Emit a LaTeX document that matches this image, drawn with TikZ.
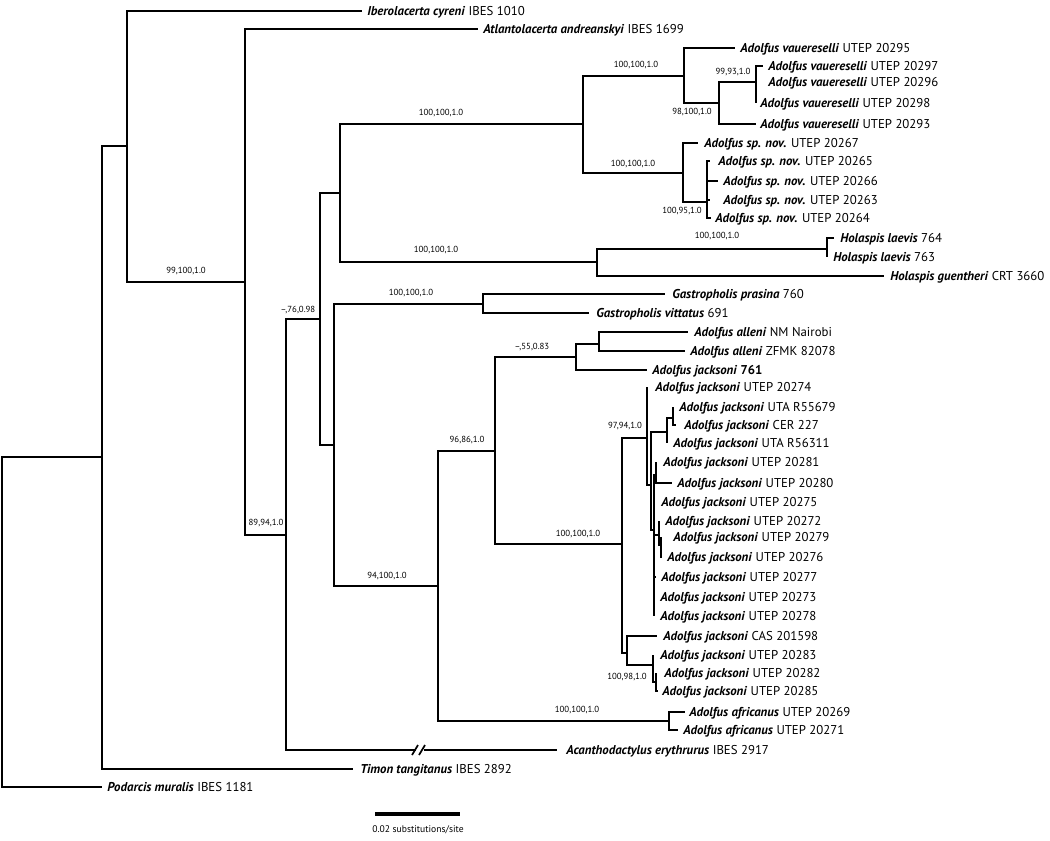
\documentclass[tikz,border=0pt]{standalone}
\usepackage{fontspec}
\setmainfont{PT Sans}
\newcommand\tx[1]{\textbf{\textit{#1}}}
\begin{document}
\begin{tikzpicture}[x=0.75pt,y=-0.75pt,
  br/.style={line width=1.9pt,line join=miter},
  lbl/.style={anchor=west,inner sep=0pt,text height=1.55ex,text depth=0.35ex,font=\fontsize{9.6}{11}\selectfont},
  bs/.style={inner sep=0pt,font=\fontsize{6.6}{7}\selectfont}]
\useasboundingbox (0,0) rectangle (1050,840);
% internal nodes
\coordinate (R0) at (2,622);
\coordinate (B) at (102,457);
\coordinate (A) at (127,146);
\coordinate (C) at (245,282);
\coordinate (D) at (286,535);
\coordinate (E) at (320,319);
\coordinate (F) at (340,193);
\coordinate (G) at (334,445);
\coordinate (H) at (583,124);
\coordinate (Ho) at (597,262);
\coordinate (I) at (684,76);
\coordinate (J) at (683,173);
\coordinate (K) at (719,103);
\coordinate (L) at (756,82);
\coordinate (M) at (707,202);
\coordinate (N) at (827,249);
\coordinate (O) at (483,304);
\coordinate (P) at (438,586);
\coordinate (Q) at (495,451);
\coordinate (R) at (669,721);
\coordinate (S) at (576,357);
\coordinate (U) at (599,344);
\coordinate (T) at (622,544);
\coordinate (V) at (647,438);
\coordinate (V2) at (651,485);
\coordinate (Y) at (667,432);
\coordinate (Z) at (673,418);
\coordinate (V3) at (654,530);
\coordinate (V4) at (656,475);
\coordinate (V5) at (659,535);
\coordinate (V6) at (661,545);
\coordinate (W) at (627,653);
\coordinate (X) at (653,665);
\coordinate (X2) at (656,682);
% tips: branch ends
\coordinate (ibe) at (362,11);
\coordinate (atl) at (478,29);
\coordinate (v95) at (735,48);
\coordinate (v97) at (763,66);
\coordinate (v96) at (756,82);
\coordinate (v98) at (756,103);
\coordinate (v93) at (756,124);
\coordinate (s67) at (698,143);
\coordinate (s65) at (710,161);
\coordinate (s66) at (718,181);
\coordinate (s63) at (710,200);
\coordinate (s64) at (711,218);
\coordinate (h764) at (834,238);
\coordinate (h763) at (827,257);
\coordinate (hgu) at (884,276);
\coordinate (gpr) at (665,294);
\coordinate (gvi) at (589,313);
\coordinate (aNM) at (688,332);
\coordinate (aZF) at (685,351);
\coordinate (j761) at (647,370);
\coordinate (j74) at (647,387);
\coordinate (j679) at (673,407);
\coordinate (jCER) at (676,425);
\coordinate (j311) at (667,443);
\coordinate (j81) at (656,462);
\coordinate (j80) at (672,483);
\coordinate (j75) at (654,502);
\coordinate (j72) at (659,521);
\coordinate (j79) at (661,537);
\coordinate (j76) at (661,558);
\coordinate (j77) at (656,577);
\coordinate (j73) at (654,597);
\coordinate (j78) at (654,616);
\coordinate (jCAS) at (657,636);
\coordinate (j83) at (653,655);
\coordinate (j82) at (656,673);
\coordinate (j85) at (658,691);
\coordinate (af69) at (685,712);
\coordinate (af71) at (678,730);
\coordinate (aca) at (557,750);
\coordinate (brkL) at (416,750);
\coordinate (brkR) at (424,750);
\coordinate (tim) at (353,769);
\coordinate (pod) at (102,787);
% labels
\node[lbl] (ibeL) at (367,11) {\tx{Iberolacerta cyreni} IBES 1010};
\node[lbl] (atlL) at (483,29) {\tx{Atlantolacerta andreanskyi} IBES 1699};
\node[lbl] (v95L) at (740,48) {\tx{Adolfus vauereselli} UTEP 20295};
\node[lbl] (v97L) at (768,66) {\tx{Adolfus vauereselli} UTEP 20297};
\node[lbl] (v96L) at (768,82) {\tx{Adolfus vauereselli} UTEP 20296};
\node[lbl] (v98L) at (760,103) {\tx{Adolfus vauereselli} UTEP 20298};
\node[lbl] (v93L) at (760,124) {\tx{Adolfus vauereselli} UTEP 20293};
\node[lbl] (s67L) at (704,143) {\tx{Adolfus sp. nov.} UTEP 20267};
\node[lbl] (s65L) at (718,161) {\tx{Adolfus sp. nov.} UTEP 20265};
\node[lbl] (s66L) at (723,181) {\tx{Adolfus sp. nov.} UTEP 20266};
\node[lbl] (s63L) at (723,200) {\tx{Adolfus sp. nov.} UTEP 20263};
\node[lbl] (s64L) at (715,218) {\tx{Adolfus sp. nov.} UTEP 20264};
\node[lbl] (h764L) at (840,238) {\tx{Holaspis laevis} 764};
\node[lbl] (h763L) at (833,257) {\tx{Holaspis laevis} 763};
\node[lbl] (hguL) at (890,276) {\tx{Holaspis guentheri} CRT 3660};
\node[lbl] (gprL) at (672,294) {\tx{Gastropholis prasina} 760};
\node[lbl] (gviL) at (596,313) {\tx{Gastropholis vittatus} 691};
\node[lbl] (aNML) at (694,332) {\tx{Adolfus alleni} NM Nairobi};
\node[lbl] (aZFL) at (690,351) {\tx{Adolfus alleni} ZFMK 82078};
\node[lbl] (j761L) at (652,370) {\tx{Adolfus jacksoni} \textbf{761}};
\node[lbl] (j74L) at (655,387) {\tx{Adolfus jacksoni} UTEP 20274};
\node[lbl] (j679L) at (679,407) {\tx{Adolfus jacksoni} UTA R55679};
\node[lbl] (jCERL) at (684,425) {\tx{Adolfus jacksoni} CER 227};
\node[lbl] (j311L) at (673,443) {\tx{Adolfus jacksoni} UTA R56311};
\node[lbl] (j81L) at (663,462) {\tx{Adolfus jacksoni} UTEP 20281};
\node[lbl] (j80L) at (677,483) {\tx{Adolfus jacksoni} UTEP 20280};
\node[lbl] (j75L) at (661,502) {\tx{Adolfus jacksoni} UTEP 20275};
\node[lbl] (j72L) at (665,521) {\tx{Adolfus jacksoni} UTEP 20272};
\node[lbl] (j79L) at (673,537) {\tx{Adolfus jacksoni} UTEP 20279};
\node[lbl] (j76L) at (667,557) {\tx{Adolfus jacksoni} UTEP 20276};
\node[lbl] (j77L) at (661,577) {\tx{Adolfus jacksoni} UTEP 20277};
\node[lbl] (j73L) at (660,597) {\tx{Adolfus jacksoni} UTEP 20273};
\node[lbl] (j78L) at (660,616) {\tx{Adolfus jacksoni} UTEP 20278};
\node[lbl] (jCASL) at (663,636) {\tx{Adolfus jacksoni} CAS 201598};
\node[lbl] (j83L) at (660,655) {\tx{Adolfus jacksoni} UTEP 20283};
\node[lbl] (j82L) at (664,673) {\tx{Adolfus jacksoni} UTEP 20282};
\node[lbl] (j85L) at (662,691) {\tx{Adolfus jacksoni} UTEP 20285};
\node[lbl] (af69L) at (689,712) {\tx{Adolfus africanus} UTEP 20269};
\node[lbl] (af71L) at (683,730) {\tx{Adolfus africanus} UTEP 20271};
\node[lbl] (acaL) at (566,750) {\tx{Acanthodactylus erythrurus} IBES 2917};
\node[lbl] (timL) at (360,769) {\tx{Timon tangitanus} IBES 2892};
\node[lbl] (podL) at (107,787) {\tx{Podarcis muralis} IBES 1181};
% branches
\draw[br] (R0) |- (B);  \draw[br] (R0) |- (pod);
\draw[br] (B) |- (A);   \draw[br] (B) |- (tim);
\draw[br] (A) |- (ibe); \draw[br] (A) |- (C);
\draw[br] (C) |- (atl); \draw[br] (C) |- (D);
\draw[br] (D) |- (E);   \draw[br] (D) |- (brkL);
\draw[br] (brkR) -- (aca);
\draw[br] (E) |- (F);   \draw[br] (E) |- (G);
\draw[br] (F) |- (H);   \draw[br] (F) |- (Ho);
\draw[br] (H) |- (I);   \draw[br] (H) |- (J);
\draw[br] (I) |- (v95); \draw[br] (I) |- (K);
\draw[br] (K) |- (L);   \draw[br] (K) |- (v93);
\draw[br] (L) |- (v97); \draw[br] (L) |- (v96); \draw[br] (L) |- (v98);
\draw[br] (J) |- (s67); \draw[br] (J) |- (M);
\draw[br] (M) |- (s65); \draw[br] (M) |- (s66); \draw[br] (M) |- (s63); \draw[br] (M) |- (s64);
\draw[br] (Ho) |- (N);  \draw[br] (Ho) |- (hgu);
\draw[br] (N) |- (h764); \draw[br] (N) |- (h763);
\draw[br] (G) |- (O);   \draw[br] (G) |- (P);
\draw[br] (O) |- (gpr); \draw[br] (O) |- (gvi);
\draw[br] (P) |- (Q);   \draw[br] (P) |- (R);
\draw[br] (R) |- (af69); \draw[br] (R) |- (af71);
\draw[br] (Q) |- (S);   \draw[br] (Q) |- (T);
\draw[br] (S) |- (U);   \draw[br] (S) |- (j761);
\draw[br] (U) |- (aNM); \draw[br] (U) |- (aZF);
\draw[br] (T) |- (V);   \draw[br] (T) |- (W);
\draw[br] (V) |- (j74); \draw[br] (V) |- (V2);
\draw[br] (V2) |- (Y);  \draw[br] (V2) |- (V3);
\draw[br] (Y) |- (Z);   \draw[br] (Y) |- (j311);
\draw[br] (Z) |- (j679); \draw[br] (Z) |- (jCER);
\draw[br] (V3) |- (V4); \draw[br] (V3) |- (j75); \draw[br] (V3) |- (V5);
\draw[br] (V3) |- (j77); \draw[br] (V3) |- (j73); \draw[br] (V3) |- (j78);
\draw[br] (V4) |- (j81); \draw[br] (V4) |- (j80);
\draw[br] (V5) |- (j72); \draw[br] (V5) |- (V6);
\draw[br] (V6) |- (j79); \draw[br] (V6) |- (j76);
\draw[br] (W) |- (jCAS); \draw[br] (W) |- (X);
\draw[br] (X) |- (j83); \draw[br] (X) |- (X2);
\draw[br] (X2) |- (j82); \draw[br] (X2) |- (j85);
% break marks
\draw[line width=1.3pt] (412,755) -- (418,745) (419,755) -- (425,745);
% support values
\node[bs] (b1) at (186,271) {99,100,1.0};
\node[bs] (b2) at (266,523) {89,94,1.0};
\node[bs] (b3) at (298,310) {--,76,0.98};
\node[bs] (b4) at (441,113) {100,100,1.0};
\node[bs] (b5) at (436,250) {100,100,1.0};
\node[bs] (b6) at (636,65) {100,100,1.0};
\node[bs] (b7) at (633,164) {100,100,1.0};
\node[bs] (b8) at (692,112) {98,100,1.0};
\node[bs] (b9) at (733,72) {99,93,1.0};
\node[bs] (b10) at (682,211) {100,95,1.0};
\node[bs] (b11) at (717,236) {100,100,1.0};
\node[bs] (b12) at (411,293) {100,100,1.0};
\node[bs] (b13) at (387,576) {94,100,1.0};
\node[bs] (b14) at (467,440) {96,86,1.0};
\node[bs] (b15) at (532,347) {--,55,0.83};
\node[bs] (b16) at (625,426) {97,94,1.0};
\node[bs] (b17) at (578,534) {100,100,1.0};
\node[bs] (b18) at (627,677) {100,98,1.0};
\node[bs] (b19) at (577,710) {100,100,1.0};
% scale bar
\coordinate (sb1) at (375,814);
\coordinate (sb2) at (460,814);
\draw[line width=2.4pt] (sb1) -- (sb2);
\node[inner sep=0pt,font=\fontsize{7.2}{9}\selectfont] (sbL) at (418,830) {0.02 substitutions/site};
\end{tikzpicture}
\end{document}
